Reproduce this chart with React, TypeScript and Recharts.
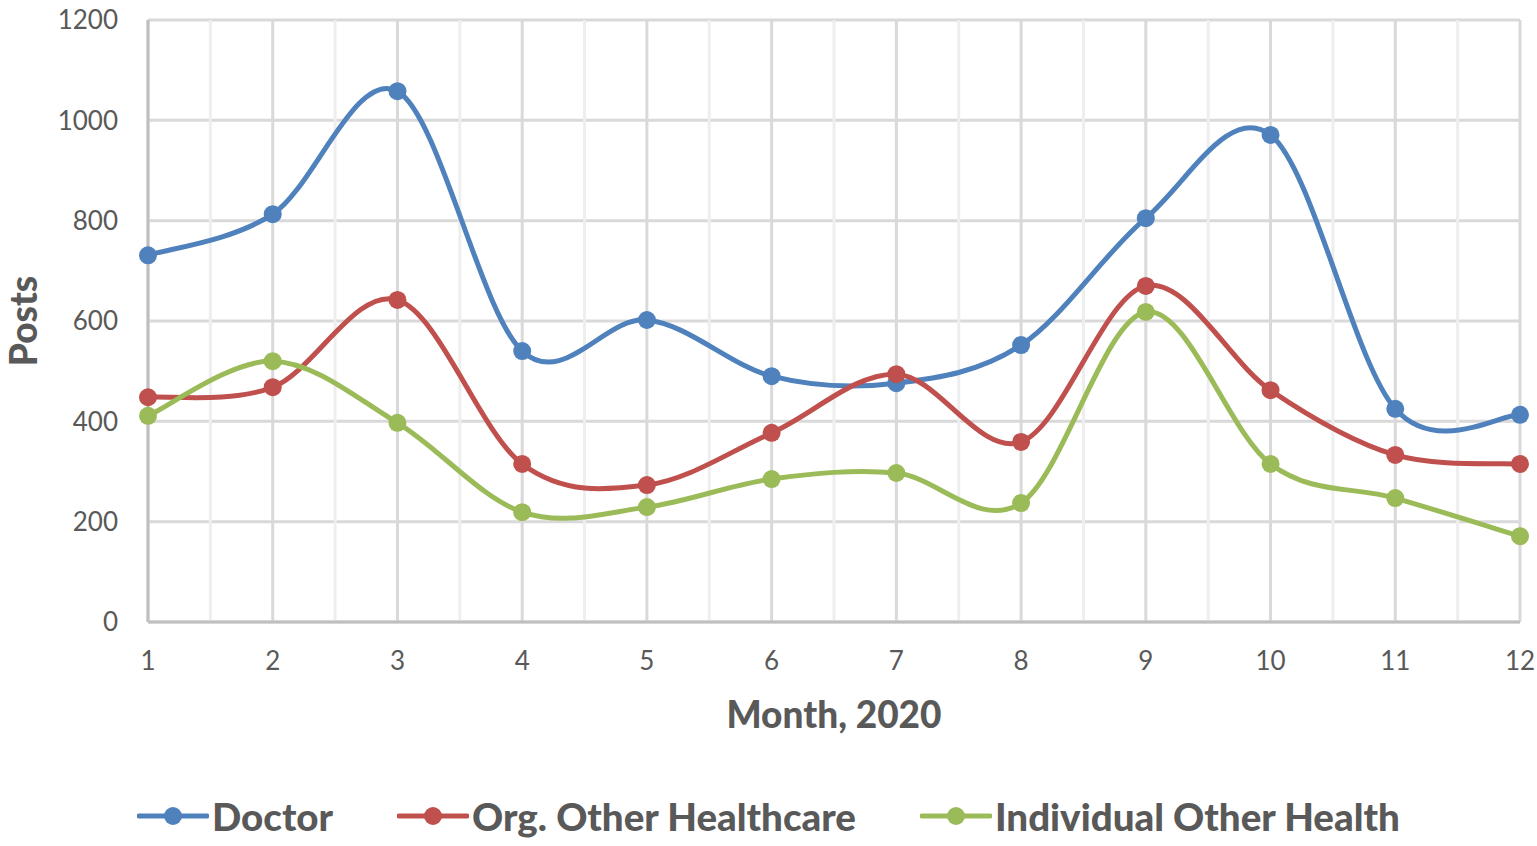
import { LineChart, Line, XAxis, YAxis, CartesianGrid, ReferenceLine, Legend, Label } from 'recharts'

const months = [1, 2, 3, 4, 5, 6, 7, 8, 9, 10, 11, 12]
const doctor = [731, 813, 1058, 540, 602, 490, 476, 552, 805, 971, 425, 413]
const orgOther = [448, 468, 642, 315, 273, 377, 494, 359, 670, 462, 333, 315]
const individualOther = [411, 520, 397, 219, 229, 285, 297, 237, 618, 315, 247, 171]
const yTicks = [0, 200, 400, 600, 800, 1000, 1200]
const minorX = [1.5, 2.5, 3.5, 4.5, 5.5, 6.5, 7.5, 8.5, 9.5, 10.5, 11.5]

const SERIES = [
  { key: 'doctor', name: 'Doctor', color: '#4F81BD' },
  { key: 'org', name: 'Org. Other Healthcare', color: '#C0504D' },
  { key: 'ind', name: 'Individual Other Health', color: '#9BBB59' },
]

const data = months.map((m, i) => ({ month: m, doctor: doctor[i], org: orgOther[i], ind: individualOther[i] }))

const FONT = 'Lato, "Open Sans", sans-serif'
const TXT = '#595959'

// Excel style smoothing: bezier with control points from neighbours / 6
function excelCurve(context: any) {
  let pts: number[][] = []
  return {
    areaStart() {},
    areaEnd() {},
    lineStart() { pts = [] },
    point(x: number, y: number) { pts.push([+x, +y]) },
    lineEnd() {
      if (!pts.length) return
      context.moveTo(pts[0][0], pts[0][1])
      for (let i = 0; i < pts.length - 1; i++) {
        const p0 = pts[i - 1] || pts[i], p1 = pts[i], p2 = pts[i + 1], p3 = pts[i + 2] || pts[i + 1]
        context.bezierCurveTo(
          p1[0] + (p2[0] - p0[0]) / 6, p1[1] + (p2[1] - p0[1]) / 6,
          p2[0] - (p3[0] - p1[0]) / 6, p2[1] - (p3[1] - p1[1]) / 6,
          p2[0], p2[1])
      }
    },
  }
}

function LegendBox() {
  return (
    <div style={{ display: 'flex', alignItems: 'center', height: 60, paddingLeft: 137, gap: 64, fontFamily: FONT }}>
      {SERIES.map(s => (
        <div key={s.key} style={{ display: 'flex', alignItems: 'center' }}>
          <svg width={72} height={20} style={{ marginRight: 3 }}>
            <line x1={2} y1={10} x2={70} y2={10} stroke={s.color} strokeWidth={5} strokeLinecap="round" />
            <circle cx={36} cy={10} r={9} fill={s.color} />
          </svg>
          <span style={{ fontSize: 38.5, fontWeight: 900, color: TXT }}>{s.name}</span>
        </div>
      ))}
    </div>
  )
}

function PostsLabel(props: any) {
  const vb = props.viewBox || {}
  const cx = 22
  const cy = vb.y + vb.height / 2
  return (
    <text x={cx} y={cy} transform={`rotate(-90 ${cx} ${cy})`} textAnchor="middle" dominantBaseline="central"
      fill={TXT} fontSize={37} fontWeight={900} fontFamily={FONT}>Posts</text>
  )
}

export default function App() {
  return (
    <div style={{ position: 'absolute', left: 0, top: 0, width: 1537, height: 846, background: '#fff' }}>
      <LineChart width={1537} height={846} data={data} margin={{ top: 20, right: 17, left: 0, bottom: 0 }}>
        <CartesianGrid stroke="#D9D9D9" strokeWidth={3} />
        {minorX.map(v => (
          <ReferenceLine key={v} x={v} stroke="#EEEEEE" strokeWidth={3} />
        ))}
        <XAxis dataKey="month" type="number" domain={[1, 12]} ticks={months} height={164}
          axisLine={{ stroke: '#BFBFBF', strokeWidth: 3 }} tickLine={false} tickSize={0} tickMargin={30}
          tick={{ fill: TXT, fontSize: 26, fontFamily: FONT }}>
          <Label value="Month, 2020" position="insideTop" offset={80} fill={TXT} fontSize={37} fontWeight={900} fontFamily={FONT} />
        </XAxis>
        <YAxis domain={[0, 1200]} ticks={yTicks} width={148}
          axisLine={{ stroke: '#BFBFBF', strokeWidth: 3 }} tickLine={false} tickSize={0} tickMargin={30}
          tick={{ fill: TXT, fontSize: 26, fontFamily: FONT }}>
          <Label content={<PostsLabel />} />
        </YAxis>
        <Legend verticalAlign="bottom" content={<LegendBox />} />
        {SERIES.map(s => (
          <Line key={s.key} dataKey={s.key} name={s.name} type={excelCurve as any} stroke={s.color} strokeWidth={5}
            dot={{ r: 9, fill: s.color, stroke: s.color, strokeWidth: 0 }} isAnimationActive={false} />
        ))}
      </LineChart>
    </div>
  )
}
